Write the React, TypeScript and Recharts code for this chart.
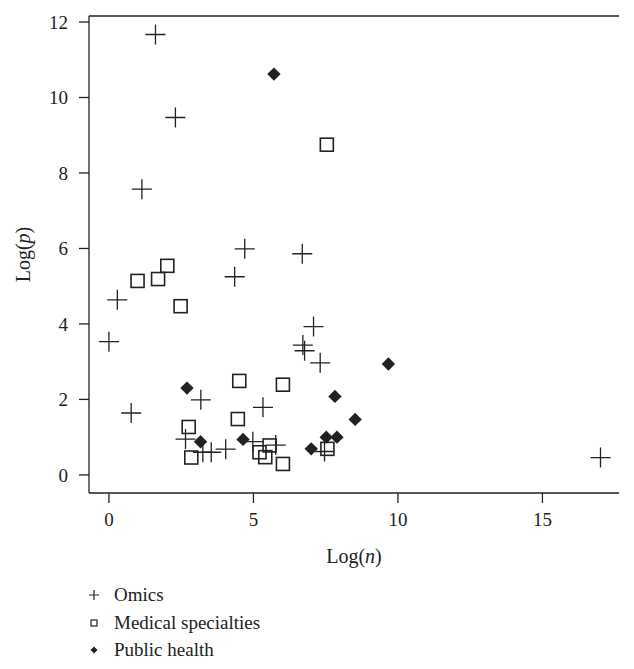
import { ReferenceLine, Scatter, ScatterChart, XAxis, YAxis } from "recharts";

// Log(n) / Log(p) per field
const omicsX = [1.61, 2.3, 1.14, 4.7, 6.69, 4.35, 0.29, 0.0, 7.08, 6.71, 6.77, 7.31, 3.18, 0.77, 5.33, 2.65, 3.25, 3.54, 4.04, 4.98, 5.77, 7.46, 17.01];
const omicsY = [11.67, 9.47, 7.57, 5.99, 5.86, 5.25, 4.64, 3.53, 3.93, 3.44, 3.29, 2.97, 1.99, 1.64, 1.79, 0.95, 0.6, 0.6, 0.68, 0.88, 0.79, 0.62, 0.46];

const medicalX = [7.54, 2.02, 0.99, 1.7, 2.48, 4.51, 6.02, 4.46, 2.76, 2.85, 5.21, 5.56, 5.41, 6.02, 7.56];
const medicalY = [8.75, 5.54, 5.14, 5.19, 4.47, 2.49, 2.39, 1.48, 1.27, 0.46, 0.6, 0.78, 0.47, 0.29, 0.69];

const publicX = [5.71, 2.7, 7.82, 8.52, 3.17, 4.64, 7.0, 7.52, 7.89, 9.67];
const publicY = [10.62, 2.3, 2.08, 1.47, 0.88, 0.94, 0.69, 1.0, 1.0, 2.94];

const xTicks = [0, 5, 10, 15];
const yTicks = [0, 2, 4, 6, 8, 10, 12];
const legendLabels = ["Omics", "Medical specialties", "Public health"];

const X_DOMAIN: [number, number] = [-0.69, 17.65];
const Y_DOMAIN: [number, number] = [-0.48, 12.16];

const INK = "#222";
const FONT = "'Liberation Serif', 'DejaVu Serif', serif";
const W = 634;
const H = 669;
const PLOT_BOTTOM = 493;

function toPoints(xs: number[], ys: number[]) {
  return xs.map((x, i) => ({ x, y: ys[i] }));
}

const omics = toPoints(omicsX, omicsY);
const medical = toPoints(medicalX, medicalY);
const publicHealth = toPoints(publicX, publicY);

function Cross(props: any) {
  const { cx, cy } = props;
  return (
    <path
      d={`M${cx - 10},${cy}H${cx + 10}M${cx},${cy - 10}V${cy + 10}`}
      fill="none"
      stroke={INK}
      strokeWidth={1.3}
    />
  );
}

function Square(props: any) {
  const { cx, cy } = props;
  return (
    <rect
      fill="none"
      height={13}
      stroke={INK}
      strokeWidth={1.6}
      width={13}
      x={cx - 6.5}
      y={cy - 6.5}
    />
  );
}

function Diamond(props: any) {
  const { cx, cy } = props;
  return (
    <path
      d={`M${cx},${cy - 6.7}L${cx + 6.7},${cy}L${cx},${cy + 6.7}L${cx - 6.7},${cy}Z`}
      fill={INK}
    />
  );
}

function XTitle(props: any) {
  const vb = props.viewBox ?? { x: 89, y: PLOT_BOTTOM, width: 530 };
  return (
    <text
      fill={INK}
      fontFamily={FONT}
      fontSize={20}
      textAnchor="middle"
      x={vb.x + vb.width / 2}
      y={vb.y + 70}
    >
      Log(<tspan fontStyle="italic">n</tspan>)
    </text>
  );
}

function YTitle(props: any) {
  const vb = props.viewBox ?? { y: 16, height: 477 };
  const cy = vb.y + vb.height / 2;
  return (
    <text
      fill={INK}
      fontFamily={FONT}
      fontSize={20}
      textAnchor="middle"
      transform={`rotate(-90, 30, ${cy})`}
      x={30}
      y={cy}
    >
      Log(<tspan fontStyle="italic">p</tspan>)
    </text>
  );
}

function LegendIcon({ i }: { i: number }) {
  if (i === 0) {
    return <path d="M89,0H99M94,-5V5" fill="none" stroke={INK} strokeWidth={1.2} />;
  }
  if (i === 1) {
    return <rect fill="none" height={6} stroke={INK} strokeWidth={1.2} width={6} x={91} y={-3} />;
  }
  return <path d="M94,-3.5L97.5,0L94,3.5L90.5,0Z" fill={INK} />;
}

export default function App() {
  const rowCenters = [595, 623, 650];
  return (
    <div
      style={{
        position: "absolute",
        left: 0,
        top: 0,
        width: W,
        height: H,
        background: "#fff",
      }}
    >
      <ScatterChart
        height={H}
        margin={{ top: 16, right: 15, bottom: 0, left: 0 }}
        width={W}
      >
        <XAxis
          allowDataOverflow
          axisLine={{ stroke: INK, strokeWidth: 1.3 }}
          dataKey="x"
          domain={X_DOMAIN}
          height={H - PLOT_BOTTOM}
          label={<XTitle />}
          tick={{ fill: INK, fontSize: 19, fontFamily: FONT }}
          tickLine={{ stroke: INK, strokeWidth: 1.3 }}
          tickMargin={10}
          tickSize={10}
          ticks={xTicks}
          type="number"
        />
        <YAxis
          allowDataOverflow
          axisLine={{ stroke: INK, strokeWidth: 1.3 }}
          dataKey="y"
          domain={Y_DOMAIN}
          label={<YTitle />}
          tick={{ fill: INK, fontSize: 19, fontFamily: FONT }}
          tickLine={{ stroke: INK, strokeWidth: 1.3 }}
          tickMargin={11}
          tickSize={10}
          ticks={yTicks}
          type="number"
          width={89}
        />
        <ReferenceLine stroke={INK} strokeWidth={1.3} y={Y_DOMAIN[1]} />
        <Scatter data={omics} isAnimationActive={false} name="Omics" shape={<Cross />} />
        <Scatter data={medical} isAnimationActive={false} name="Medical specialties" shape={<Square />} />
        <Scatter data={publicHealth} isAnimationActive={false} name="Public health" shape={<Diamond />} />
      </ScatterChart>

      {/* legend under the plot */}
      <svg
        height={H}
        style={{ position: "absolute", left: 0, top: 0, pointerEvents: "none" }}
        width={W}
      >
        {legendLabels.map((label, i) => (
          <g key={label} transform={`translate(0, ${rowCenters[i]})`}>
            <LegendIcon i={i} />
            <text fill={INK} fontFamily={FONT} fontSize={19} x={114} y={5.5}>
              {label}
            </text>
          </g>
        ))}
      </svg>
    </div>
  );
}
